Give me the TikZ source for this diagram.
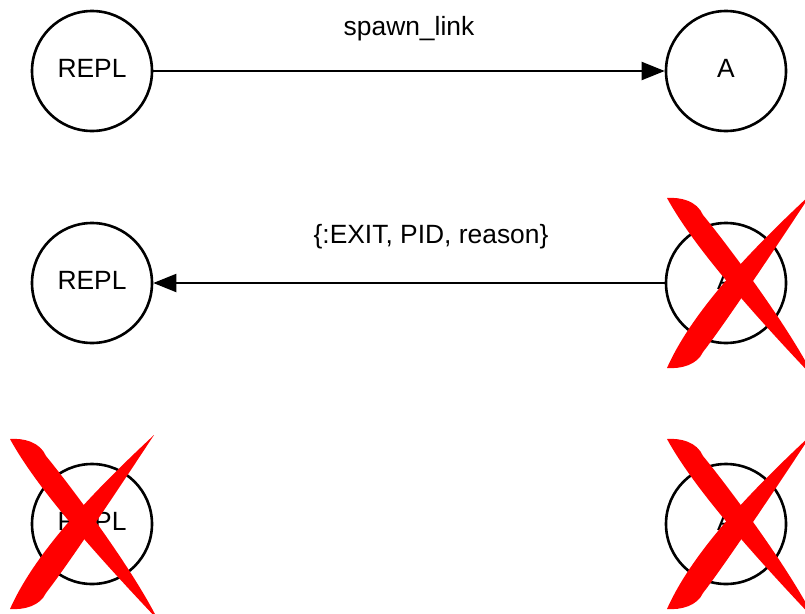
\documentclass[tikz,border=0pt]{standalone}
\usepackage{fontspec}
\setmainfont{Liberation Sans}
\usetikzlibrary{arrows.meta}

\definecolor{xred}{RGB}{255,0,0}

\tikzset{
  proc/.style={circle, draw=black, line width=2.6pt, minimum size=120pt,
    inner sep=0pt, text height=19pt, text depth=6pt,
    font=\fontsize{26.4}{30}\selectfont},
  msg/.style={anchor=base, font=\fontsize{26.4}{30}\selectfont},
  link/.style={line width=2pt, -{Triangle[length=23pt, width=18pt]}},
  % hand-brushed red cross, origin at its left edge, vertically centred
  redx/.pic={
    % falling stroke, blunt end top left, tapering to the lower right
    \fill[xred] (0,-85) .. controls (14,-86) and (30,-82) .. (36,-68)
      .. controls (55,-45) and (120,40) .. (148,96)
      .. controls (100,45) and (30,-30) .. cycle;
    % rising stroke, blunt end bottom left, tapering to the upper right
    \fill[xred] (0,85) .. controls (14,86) and (30,82) .. (36,69)
      .. controls (60,38) and (115,-45) .. (144,-89)
      .. controls (96,-44) and (28,22) .. cycle;
  }
}

\begin{document}
\begin{tikzpicture}[x=1pt, y=-1pt]
  \clip (0,0) rectangle (805,613);
  \fill[white] (0,0) rectangle (805,613);

  % first row: REPL spawns and links A
  \node[proc] (repl1) at (92,71) {REPL};
  \node[proc] (a1) at (726,71) {A};
  \draw[link] (repl1) -- (a1);
  \node[msg] (spawn) at (409,35) {spawn\_link};

  % second row: A dies, exit signal travels back
  \node[proc] (repl2) at (92,283) {REPL};
  \node[proc] (a2) at (726,283) {A};
  \draw[link] (a2) -- (repl2);
  \node[msg] (exitmsg) at (431,243) {\{:EXIT, PID, reason\}};
  \pic at (667,283) {redx};

  % third row: both processes are gone
  \node[proc] (repl3) at (92,524) {REPL};
  \node[proc] (a3) at (726,524) {A};
  \pic at (10,524) {redx};
  \pic at (667,524) {redx};
\end{tikzpicture}
\end{document}
